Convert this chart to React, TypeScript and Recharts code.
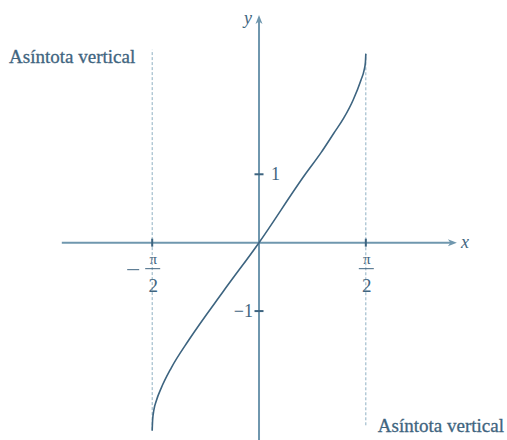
import React from 'react';
import { LineChart, Line, XAxis, YAxis, ReferenceLine, ReferenceDot } from 'recharts';

// Sampled points of the curve y = f(x) between the two vertical asymptotes
const curveX = [-1.571, -1.565, -1.545, -1.51, -1.44, -1.29, -1.03, -0.524, 0, 0.68, 0.915, 1.1, 1.245, 1.386, 1.5, 1.545, 1.565, 1.571];
const curveY = [-2.75, -2.6, -2.44, -2.31, -2.13, -1.83, -1.42, -0.71, 0, 1.0, 1.32, 1.6, 1.82, 2.09, 2.38, 2.52, 2.64, 2.76];

// Tick marks on the axes
const xTickValues = [-Math.PI / 2, Math.PI / 2];
const xTickSigns = ['−', ''];
const yTickValues = [-1, 1];
const yTickLabels = ['−1', '1'];

// Vertical asymptotes x = ±π/2 and their extents
const asymptoteX = [-Math.PI / 2, Math.PI / 2];
const asymptoteTop = [2.82, 2.77];
const asymptoteBottom = [-2.74, -2.67];
const asymptoteLabel = 'Asíntota vertical';

// Visible extent of the drawn axes
const xAxisRange = [-2.9, 2.91];
const yAxisRange = [-2.885, 3.33];

// Plot window
const xDomain = [-3.809, 3.647];
const yDomain = [-2.885, 3.548];

const data = curveX.map((x, i) => ({ x, y: curveY[i] }));

const AXIS = '#6f97ae';
const CURVE = '#3d6480';
const TEXT = '#3f6580';
const DASH = '#8fb0c3';
const FONT = "'Liberation Serif', 'Times New Roman', serif";

const txt = (size: number, italic = false): React.CSSProperties => ({
  fontFamily: FONT,
  fontSize: size,
  fontStyle: italic ? 'italic' : 'normal',
});

const XAxisShape = (p: any) => {
  const { x1, y1, x2, y2 } = p;
  return (
    <g>
      <line x1={x1} y1={y1} x2={x2 - 4} y2={y2} stroke={AXIS} strokeWidth={2} />
      <polygon points={`${x2},${y2} ${x2 - 9},${y2 - 3.5} ${x2 - 6.5},${y2} ${x2 - 9},${y2 + 3.5}`} fill={AXIS} />
      <text x={x2 + 4} y={y2 + 5} style={txt(18, true)} fill={TEXT}>x</text>
    </g>
  );
};

const YAxisShape = (p: any) => {
  const { x1, y1, x2, y2 } = p;
  return (
    <g>
      <line x1={x1} y1={y1} x2={x2} y2={y2 + 4} stroke={AXIS} strokeWidth={2} />
      <polygon points={`${x2},${y2} ${x2 - 3.5},${y2 + 9} ${x2},${y2 + 6.5} ${x2 + 3.5},${y2 + 9}`} fill={AXIS} />
      <text x={x2 - 7} y={y2 + 9} textAnchor="end" style={txt(18, true)} fill={TEXT}>y</text>
    </g>
  );
};

const LeftAsymptote = (p: any) => {
  const { x1, y1, x2, y2 } = p;
  const top = Math.min(y1, y2);
  return (
    <g>
      <line x1={x1} y1={y1} x2={x2} y2={y2} stroke={DASH} strokeWidth={1} strokeDasharray="3 2" />
      <text x={x1 - 17} y={top + 13} textAnchor="end" style={txt(19)} fill={TEXT} stroke={TEXT} strokeWidth={0.3}>
        {asymptoteLabel}
      </text>
    </g>
  );
};

const RightAsymptote = (p: any) => {
  const { x1, y1, x2, y2 } = p;
  const bottom = Math.max(y1, y2);
  return (
    <g>
      <line x1={x1} y1={y1} x2={x2} y2={y2} stroke={DASH} strokeWidth={1} strokeDasharray="3 2" />
      <text x={x1 + 12} y={bottom + 7} textAnchor="start" style={txt(19)} fill={TEXT} stroke={TEXT} strokeWidth={0.3}>
        {asymptoteLabel}
      </text>
    </g>
  );
};

const makeXTick = (sign: string) => (p: any) => {
  const { cx, cy } = p;
  return (
    <g>
      <line x1={cx} y1={cy - 4} x2={cx} y2={cy + 4} stroke={CURVE} strokeWidth={2} />
      <text x={cx + 1} y={cy + 21} textAnchor="middle" style={txt(15)} fill={TEXT}>π</text>
      <line x1={cx - 7} y1={cy + 26} x2={cx + 8} y2={cy + 26} stroke={TEXT} strokeWidth={1} />
      <text x={cx + 1} y={cy + 49} textAnchor="middle" style={txt(19)} fill={TEXT}>2</text>
      {sign ? (
        <line x1={cx - 25} y1={cy + 27} x2={cx - 13} y2={cy + 27} stroke={TEXT} strokeWidth={1} />
      ) : null}
    </g>
  );
};

const makeYTick = (label: string) => (p: any) => {
  const { cx, cy } = p;
  const neg = label.startsWith('−');
  return (
    <g>
      <line x1={cx - 4.5} y1={cy} x2={cx + 4.5} y2={cy} stroke={CURVE} strokeWidth={2} />
      <text
        x={neg ? cx - 6 : cx + 12}
        y={cy + 6}
        textAnchor={neg ? 'end' : 'start'}
        style={txt(18)}
        fill={TEXT}
      >
        {label}
      </text>
    </g>
  );
};

export default function App() {
  return (
    <div style={{ position: 'absolute', left: 0, top: 0, width: 507, height: 440, background: '#ffffff' }}>
      <LineChart width={507} height={440} data={data} margin={{ top: 0, right: 0, bottom: 0, left: 0 }}>
        <XAxis type="number" dataKey="x" domain={xDomain} allowDataOverflow hide />
        <YAxis type="number" domain={yDomain} allowDataOverflow hide />
        {asymptoteX.map((ax, i) => (
          <ReferenceLine
            key={`asym-${i}`}
            segment={[{ x: ax, y: asymptoteBottom[i] }, { x: ax, y: asymptoteTop[i] }]}
            shape={i === 0 ? LeftAsymptote : RightAsymptote}
            ifOverflow="visible"
          />
        ))}
        <ReferenceLine
          segment={[{ x: xAxisRange[0], y: 0 }, { x: xAxisRange[1], y: 0 }]}
          shape={XAxisShape}
          ifOverflow="visible"
        />
        <ReferenceLine
          segment={[{ x: 0, y: yAxisRange[0] }, { x: 0, y: yAxisRange[1] }]}
          shape={YAxisShape}
          ifOverflow="visible"
        />
        {xTickValues.map((v, i) => (
          <ReferenceDot key={`xt-${i}`} x={v} y={0} r={0} shape={makeXTick(xTickSigns[i])} ifOverflow="visible" />
        ))}
        {yTickValues.map((v, i) => (
          <ReferenceDot key={`yt-${i}`} x={0} y={v} r={0} shape={makeYTick(yTickLabels[i])} ifOverflow="visible" />
        ))}
        <Line
          type="monotone"
          dataKey="y"
          stroke={CURVE}
          strokeWidth={1.6}
          dot={false}
          activeDot={false}
          isAnimationActive={false}
        />
      </LineChart>
    </div>
  );
}
